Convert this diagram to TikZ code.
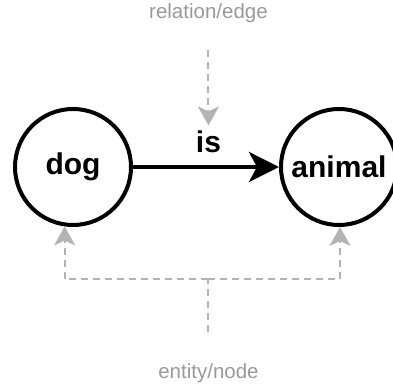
\documentclass[tikz,border=0pt]{standalone}
\usepackage{fontspec}
\setmainfont{Liberation Sans}
\usetikzlibrary{arrows.meta}
\usetikzlibrary{shapes.geometric, positioning}
\definecolor{hintline}{HTML}{B3B3B3}
\definecolor{hinttext}{HTML}{999999}
\tikzstyle{entity} = [circle, minimum size=116pt, inner sep=0pt, line width=4pt, draw=black, font=\fontsize{30}{36}\selectfont\bfseries]
\tikzstyle{tag} = [inner sep=0pt, font=\fontsize{30}{36}\selectfont\bfseries]
\tikzstyle{note} = [inner sep=0pt, text=hinttext, font=\fontsize{20.5}{25}\selectfont]
\tikzstyle{arrow} = [line width=4pt, -{Stealth[length=30pt, width=30pt, inset=8pt]}]
\tikzstyle{hint} = [line width=2pt, draw=hintline, dash pattern=on 7pt off 5pt, -{Stealth[length=19pt, width=21pt, inset=5pt]}]

\begin{document}
\begin{tikzpicture}[x=1pt, y=1pt, node distance=266pt]
        \useasboundingbox (0,0) rectangle (393,387);
        \node (dog) [entity] at (73,220) {dog};
        \node (animal) [entity, right of=dog] {animal};
        \draw [arrow] (dog) -- node (is) [tag, above=12pt, pos=0.517] {is} (animal);
        \node (relation) [note, above=105.7pt of is] {relation/edge};
        \coordinate [below=124pt of is] (fork);
        \node (entityname) [note, below=84.5pt of fork] {entity/node};
        \draw [hint, shorten <=27.2pt, shorten >=3.5pt] (relation) -- (is);
        \draw [hint, -, shorten <=31.5pt] (entityname) -- (fork);
        \draw [hint] (fork) -| (dog.262);
        \draw [hint] (fork) -| (animal.271);
    \end{tikzpicture}
\end{document}
